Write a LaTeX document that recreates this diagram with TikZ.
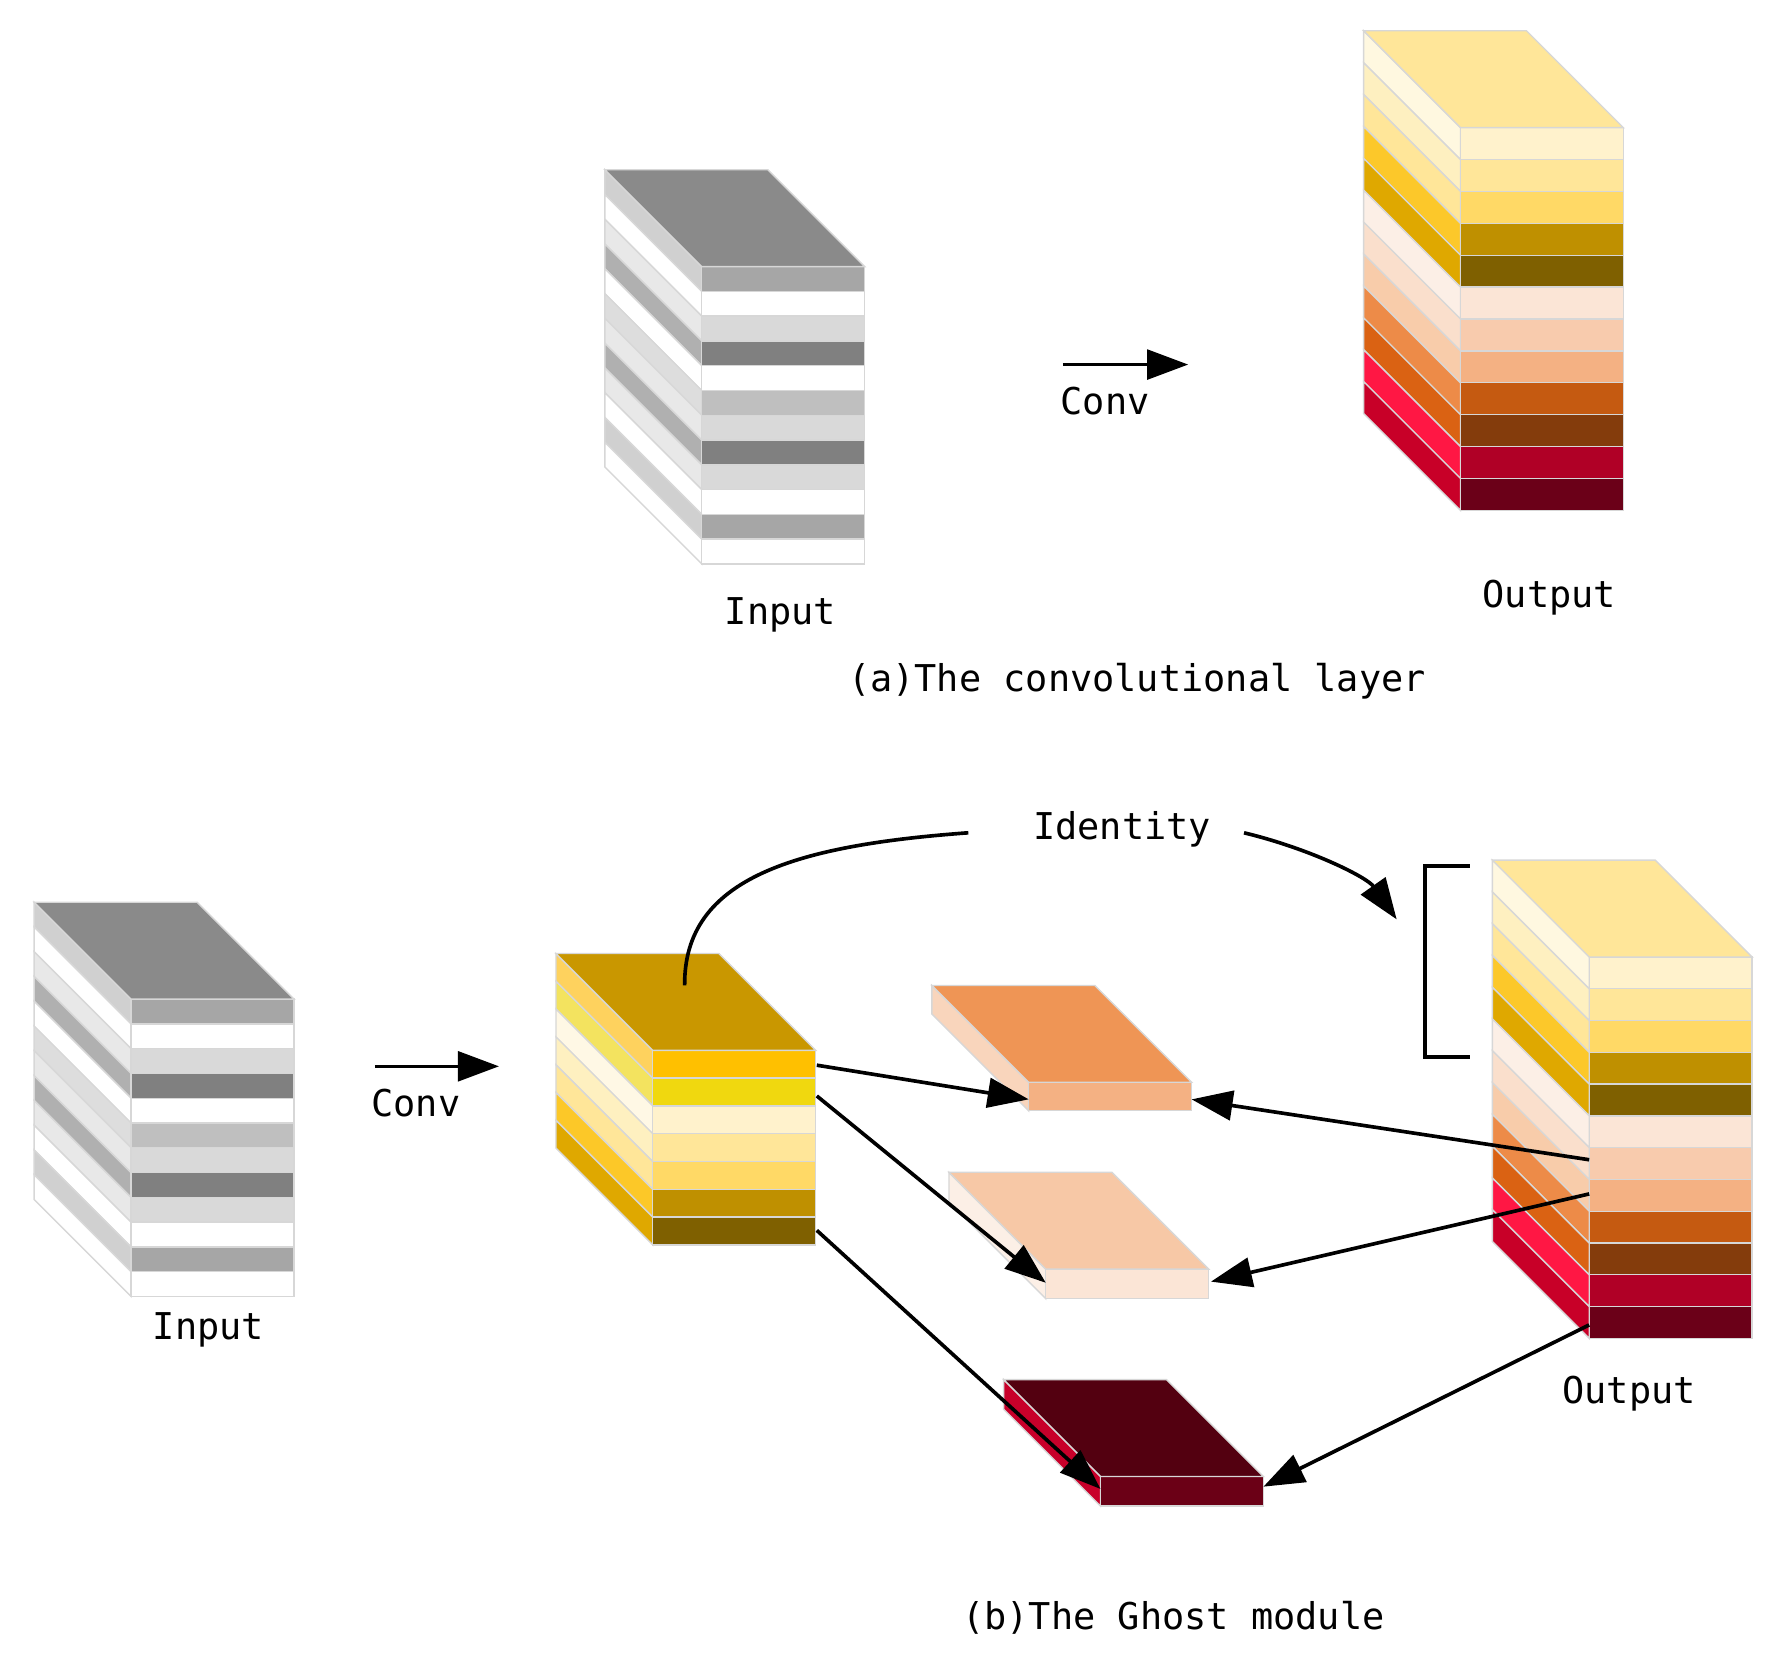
\documentclass[tikz,border=0pt]{standalone}
\usepackage{fontspec}
\setmainfont{DejaVu Sans Mono}
\usetikzlibrary{arrows.meta}
\newcommand\mystack[5]{% fx, ytop, layer h, top color, list front/side
  \edef\mylist{#5}%
  \foreach \f/\s [count=\i] in \mylist{%
    \definecolor{tmpf}{HTML}{\f}\definecolor{tmps}{HTML}{\s}%
    \pgfmathsetmacro\ya{#2+(\i-1)*#3}\pgfmathsetmacro\yb{#2+\i*#3}%
    \filldraw[fill=tmps,face] (#1,\ya)--(#1-85,\ya-85)--(#1-85,\yb-85)--(#1,\yb)--cycle;
    \filldraw[fill=tmpf,face] (#1,\ya) rectangle (#1+143,\yb);
  }%
  \definecolor{tmpt}{HTML}{#4}%
  \filldraw[fill=tmpt,face] (#1,#2)--(#1-85,#2-85)--(#1+58,#2-85)--(#1+143,#2)--cycle;
}
\begin{document}
\begin{tikzpicture}[x=0.25pt,y=-0.25pt,
  face/.style={draw={rgb,255:red,215;green,215;blue,215},line width=0.3pt},
  arr/.style={line width=0.8pt,-{Triangle[length=9pt,width=6.5pt]}},
  lbl/.style={font=\fontsize{8.1}{10}\selectfont}]
\useasboundingbox (0,0) rectangle (1566,1461);
\def\graylist{A6A6A6/D0D0D0,FFFFFF/FFFFFF,D9D9D9/E8E8E8,808080/B0B0B0,FFFFFF/FFFFFF,BFBFBF/DDDDDD,D9D9D9/E8E8E8,808080/B0B0B0,D9D9D9/E8E8E8,FFFFFF/FFFFFF,A6A6A6/D0D0D0,FFFFFF/FFFFFF}
\def\outlist{FFF2CC/FFF8E0,FFE699/FEF0C0,FFD966/FFE699,BF9000/FCC82A,7F6000/DFA800,FBE5D6/FCEFE6,F8CBAD/FADFCC,F4B183/F8CCAA,C55A11/ED8B48,843C0C/DA6213,B00026/FF1744,6B0018/C80028}
% (a)
\mystack{616}{234}{21.75}{8A8A8A}{\graylist}
\mystack{1282}{112}{28}{FFE699}{\outlist}
\node[lbl] (ina) at (685,540) {Input};
\node[lbl] (outa) at (1360,525) {Output};
\node[lbl] (capa) at (998,598) {(a)The convolutional layer};
\coordinate (ca1) at (933,320); \coordinate (ca2) at (1043,320);
\draw[arr] (ca1) -- (ca2);
\node[lbl] (conva) at (970,352) {Conv};
% (b)
\mystack{115}{877}{21.75}{8A8A8A}{\graylist}
\mystack{1395}{840}{27.9}{FFE699}{\outlist}
\mystack{573}{922}{24.4}{C99700}{FFC000/FED25E,F0D80F/F3E35F,FFF2CC/FFF8E5,FFE699/FEF0C0,FFD966/FFE699,BF9000/FCC828,7F6000/DFA800}
\mystack{903}{950}{25}{EF9555}{F4B183/F9D5BC}
\mystack{918}{1114}{26}{F7C8A6}{FBE5D6/FCEFE6}
\mystack{966}{1296}{26}{530010}{6B0016/C8002A}
\node[lbl] (inb) at (183,1167) {Input};
\node[lbl] (outb) at (1430,1223) {Output};
\node[lbl] (capb) at (1030,1420) {(b)The Ghost module};
\node[lbl] (ident) at (985,728) {Identity};
\node[lbl] (convb) at (365,968) {Conv};
\coordinate (cb1) at (329,936); \coordinate (cb2) at (438,936);
\draw[arr] (cb1) -- (cb2);
% arrows
\coordinate (g1) at (717,935); \coordinate (g2) at (717,962); \coordinate (g3) at (717,1080);
\coordinate (s1l) at (903,965); \coordinate (s2l) at (918,1126); \coordinate (s3l) at (966,1307);
\coordinate (s1r) at (1046,965); \coordinate (s2r) at (1063,1125); \coordinate (s3r) at (1109,1305);
\coordinate (o1) at (1395,1018); \coordinate (o2) at (1395,1048); \coordinate (o3) at (1395,1163);
\draw[arr] (g1) -- (s1l);
\draw[arr] (g2) -- (s2l);
\draw[arr] (g3) -- (s3l);
\draw[arr] (o1) -- (s1r);
\draw[arr] (o2) -- (s2r);
\draw[arr] (o3) -- (s3r);
\coordinate (id0) at (601,865); \coordinate (id1) at (850,731);
\coordinate (id2) at (1092,731); \coordinate (id3) at (1226,807);
\draw[line width=0.8pt] (id0) .. controls (600,770) and (700,742) .. (id1);
\draw[arr] (id2) .. controls (1150,745) and (1200,770) .. (id3);
\coordinate (br1) at (1290,760); \coordinate (br2) at (1290,928);
\draw[line width=0.8pt] (br1) -- (1251,760) -- (1251,928) -- (br2);
\end{tikzpicture}
\end{document}
